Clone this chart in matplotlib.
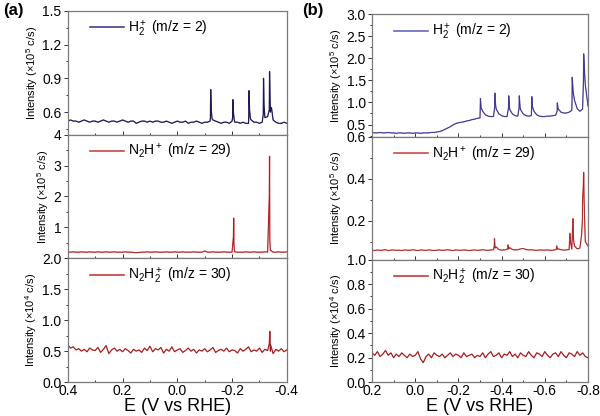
import matplotlib.pyplot as plt
import numpy as np
from matplotlib.ticker import MultipleLocator

plt.rcParams['font.family'] = ['Liberation Sans', 'DejaVu Sans']
plt.rcParams['mathtext.fontset'] = 'custom'
plt.rcParams['mathtext.rm'] = 'Liberation Sans'
plt.rcParams['mathtext.it'] = 'Liberation Sans:italic'

# sampling grids of the potential sweep (V vs RHE)
Ea = np.linspace(0.4, -0.4, 81)
Eb = np.linspace(0.2, -0.8, 81)

# ---- panel (a) ----
a_h2 = [0.52, 0.53, 0.52, 0.52, 0.51, 0.52, 0.53, 0.52, 0.51, 0.52,
        0.52, 0.51, 0.52, 0.53, 0.52, 0.51, 0.52, 0.52, 0.51, 0.52,
        0.53, 0.52, 0.51, 0.52, 0.52, 0.50, 0.51, 0.52, 0.52, 0.51,
        0.52, 0.51, 0.52, 0.52, 0.51, 0.51, 0.52, 0.51, 0.50, 0.51,
        0.52, 0.51, 0.51, 0.52, 0.50, 0.51, 0.51, 0.52, 0.51, 0.50,
        0.51, 0.51, 0.52, 0.53, 0.52, 0.51, 0.50, 0.51, 0.51, 0.50,
        0.52, 0.51, 0.51, 0.50, 0.51, 0.50, 0.50, 0.53, 0.51, 0.51,
        0.50, 0.51, 0.55, 0.56, 0.60, 0.53, 0.51, 0.50, 0.50, 0.51, 0.50]
a_h2_pk_E = [-0.121, -0.122, -0.124, -0.127, -0.202, -0.203, -0.205, -0.208,
             -0.261, -0.262, -0.264, -0.267, -0.314, -0.315, -0.317, -0.319,
             -0.336, -0.337, -0.339, -0.344]
a_h2_pk_I = [0.56, 0.80, 0.62, 0.54, 0.55, 0.71, 0.60, 0.53,
             0.56, 0.79, 0.62, 0.54, 0.58, 0.90, 0.66, 0.58,
             0.62, 0.96, 0.72, 0.64]

a_n2h = [0.21, 0.20, 0.21, 0.20, 0.20, 0.21, 0.20, 0.20, 0.21, 0.20,
         0.20, 0.21, 0.20, 0.20, 0.21, 0.20, 0.20, 0.21, 0.20, 0.20,
         0.20, 0.21, 0.20, 0.20, 0.19, 0.18, 0.19, 0.20, 0.20, 0.21,
         0.20, 0.20, 0.21, 0.20, 0.20, 0.20, 0.21, 0.20, 0.20, 0.21,
         0.20, 0.20, 0.21, 0.20, 0.20, 0.20, 0.21, 0.20, 0.20, 0.20,
         0.24, 0.20, 0.20, 0.21, 0.20, 0.20, 0.20, 0.21, 0.20, 0.20,
         0.20, 0.21, 0.20, 0.20, 0.20, 0.21, 0.20, 0.20, 0.21, 0.20,
         0.20, 0.20, 0.21, 0.20, 0.25, 0.20, 0.20, 0.21, 0.20, 0.20, 0.21]
a_n2h_pk_E = [-0.205, -0.206, -0.207, -0.209, -0.336, -0.337, -0.338, -0.341]
a_n2h_pk_I = [0.70, 1.30, 0.45, 0.22, 2.00, 3.30, 0.60, 0.26]

a_n2h2 = [0.60, 0.55, 0.57, 0.52, 0.54, 0.50, 0.53, 0.49, 0.55, 0.52,
          0.51, 0.56, 0.48, 0.53, 0.59, 0.46, 0.52, 0.55, 0.50, 0.53,
          0.49, 0.54, 0.51, 0.47, 0.53, 0.50, 0.52, 0.48, 0.55, 0.51,
          0.58, 0.49, 0.54, 0.52, 0.56, 0.47, 0.53, 0.50, 0.57, 0.49,
          0.52, 0.54, 0.48, 0.51, 0.55, 0.50, 0.53, 0.47, 0.52, 0.50,
          0.54, 0.49, 0.52, 0.56, 0.48, 0.51, 0.53, 0.50, 0.55, 0.49,
          0.52, 0.51, 0.47, 0.54, 0.50, 0.53, 0.57, 0.49, 0.52, 0.50,
          0.55, 0.48, 0.53, 0.51, 0.50, 0.46, 0.53, 0.50, 0.54, 0.49, 0.52]
a_n2h2_pk_E = [-0.336, -0.338, -0.341]
a_n2h2_pk_I = [0.62, 0.82, 0.60]

# ---- panel (b) ----
b_h2 = [0.32, 0.31, 0.31, 0.32, 0.31, 0.31, 0.32, 0.31, 0.31, 0.30,
        0.31, 0.31, 0.30, 0.31, 0.31, 0.30, 0.31, 0.31, 0.30, 0.31,
        0.31, 0.31, 0.32, 0.32, 0.33, 0.34, 0.36, 0.39, 0.42, 0.45,
        0.49, 0.52, 0.54, 0.55, 0.56, 0.58, 0.59, 0.61, 0.62, 0.64,
        0.65, 0.80, 0.72, 0.69, 0.68, 0.68, 0.85, 0.74, 0.70, 0.68,
        0.68, 0.84, 0.74, 0.70, 0.69, 0.84, 0.74, 0.70, 0.69, 0.70,
        0.80, 0.72, 0.69, 0.68, 0.68, 0.69, 0.69, 0.70, 0.71, 0.85,
        0.78, 0.76, 0.76, 0.78, 0.82, 1.05, 0.86, 0.80, 0.85, 1.40, 0.92]
b_h2_pk_E = [-0.301, -0.302, -0.305, -0.368, -0.369, -0.372,
             -0.432, -0.433, -0.436, -0.481, -0.482, -0.485,
             -0.539, -0.540, -0.543, -0.657, -0.658, -0.661,
             -0.726, -0.727, -0.731, -0.779, -0.780, -0.784]
b_h2_pk_I = [0.85, 1.09, 0.88, 0.90, 1.21, 0.95,
             0.88, 1.15, 0.92, 0.88, 1.15, 0.92,
             0.85, 1.13, 0.90, 0.80, 0.99, 0.88,
             1.00, 1.57, 1.25, 1.50, 2.10, 1.70]

b_n2h = [0.060, 0.058, 0.061, 0.059, 0.060, 0.062, 0.058, 0.060, 0.061, 0.059,
         0.060, 0.058, 0.061, 0.060, 0.059, 0.062, 0.060, 0.058, 0.061, 0.060,
         0.059, 0.061, 0.060, 0.058, 0.060, 0.061, 0.059, 0.060, 0.062, 0.060,
         0.058, 0.061, 0.060, 0.059, 0.061, 0.060, 0.058, 0.060, 0.061, 0.059,
         0.060, 0.062, 0.060, 0.059, 0.061, 0.062, 0.075, 0.063, 0.060, 0.061,
         0.064, 0.072, 0.063, 0.061, 0.062, 0.066, 0.068, 0.063, 0.061, 0.062,
         0.060, 0.059, 0.061, 0.060, 0.060, 0.061, 0.059, 0.060, 0.062, 0.066,
         0.062, 0.060, 0.061, 0.063, 0.065, 0.080, 0.066, 0.070, 0.300, 0.100, 0.080]
b_n2h_pk_E = [-0.366, -0.367, -0.370, -0.429, -0.430, -0.433,
              -0.654, -0.655, -0.658, -0.714, -0.716, -0.719,
              -0.728, -0.730, -0.733, -0.770, -0.774, -0.778,
              -0.780, -0.782, -0.786]
b_n2h_pk_I = [0.080, 0.115, 0.070, 0.070, 0.085, 0.065,
              0.065, 0.080, 0.065, 0.090, 0.140, 0.100,
              0.150, 0.210, 0.110, 0.130, 0.200, 0.360,
              0.430, 0.300, 0.150]

b_n2h2 = [0.24, 0.22, 0.25, 0.21, 0.23, 0.26, 0.22, 0.24, 0.20, 0.23,
          0.21, 0.24, 0.22, 0.20, 0.23, 0.21, 0.22, 0.25, 0.19, 0.16,
          0.21, 0.23, 0.20, 0.24, 0.22, 0.21, 0.23, 0.20, 0.22, 0.24,
          0.21, 0.23, 0.22, 0.20, 0.24, 0.21, 0.22, 0.23, 0.20, 0.22,
          0.21, 0.24, 0.20, 0.23, 0.25, 0.21, 0.22, 0.24, 0.20, 0.23,
          0.22, 0.25, 0.21, 0.23, 0.20, 0.24, 0.22, 0.21, 0.25, 0.22,
          0.20, 0.24, 0.23, 0.21, 0.25, 0.22, 0.20, 0.23, 0.24, 0.21,
          0.25, 0.22, 0.20, 0.24, 0.23, 0.21, 0.25, 0.22, 0.24, 0.21, 0.20]

labels = [r'H$_2^+$ (m/z = 2)', r'N$_2$H$^+$ (m/z = 29)', r'N$_2$H$_2^+$ (m/z = 30)']
ylabels_a = [r'Intensity ($\times$10$^5$ c/s)', r'Intensity ($\times$10$^5$ c/s)',
             r'Intensity ($\times$10$^4$ c/s)']
ylabels_b = ylabels_a


def merge(E, I, pE, pI):
    x = np.concatenate([E, pE])
    y = np.concatenate([np.asarray(I, float), pI])
    o = np.argsort(-x, kind='stable')
    return x[o], y[o]


fig = plt.figure(figsize=(6, 4.16), dpi=100)

panels = [
    dict(left=0.113, width=0.365, top=0.974, h=0.2975, xlim=(0.4, -0.4),
         traces=[(Ea, a_h2, a_h2_pk_E, a_h2_pk_I), (Ea, a_n2h, a_n2h_pk_E, a_n2h_pk_I),
                 (Ea, a_n2h2, a_n2h2_pk_E, a_n2h2_pk_I)],
         ylims=[(0.4, 1.5), (0.0, 4.0), (0.0, 2.0)],
         yticks=[[0.6, 0.9, 1.2, 1.5], [1, 2, 3, 4], [0.0, 0.5, 1.0, 1.5, 2.0]],
         yfmt=['%.1f', '%d', '%.1f'],
         xticks=[0.4, 0.2, 0.0, -0.2, -0.4],
         colors=['#23206a', '#d23a3a', '#c83030'],
         lcolors=['#4a3f86', '#c94545', '#c83a3a'],
         ylabels=ylabels_a),
    dict(left=0.620, width=0.360, top=0.966, h=0.295, xlim=(0.2, -0.8),
         traces=[(Eb, b_h2, b_h2_pk_E, b_h2_pk_I), (Eb, b_n2h, b_n2h_pk_E, b_n2h_pk_I),
                 (Eb, b_n2h2, [], [])],
         ylims=[(0.22, 3.0), (0.015, 0.6), (0.0, 1.0)],
         yticks=[[0.5, 1.0, 1.5, 2.0, 2.5, 3.0], [0.2, 0.4, 0.6], [0.0, 0.2, 0.4, 0.6, 0.8, 1.0]],
         yfmt=['%.1f', '%.1f', '%.1f'],
         xticks=[0.2, 0.0, -0.2, -0.4, -0.6, -0.8],
         colors=['#5a55b8', '#d64545', '#c83030'],
         lcolors=['#6a66c0', '#d04848', '#c83a3a'],
         ylabels=ylabels_b),
]

for p in panels:
    for k in range(3):
        ax = fig.add_axes([p['left'], p['top'] - (k + 1) * p['h'], p['width'], p['h']])
        E, I, pE, pI = p['traces'][k]
        x, y = merge(E, I, np.array(pE, float), np.array(pI, float))
        ax.plot(x, y, color=p['colors'][k], lw=0.9)
        ax.plot(x, y, color='#1a0a30' if k == 0 else '#5a0808', lw=0.5, alpha=0.45)
        ax.set_xlim(*p['xlim'])
        ax.set_ylim(*p['ylims'][k])
        ax.set_yticks(p['yticks'][k])
        ax.set_yticklabels([p['yfmt'][k] % v for v in p['yticks'][k]])
        ax.set_xticks(p['xticks'])
        ax.xaxis.set_minor_locator(MultipleLocator(0.1))
        step = p['yticks'][k][1] - p['yticks'][k][0]
        ax.yaxis.set_minor_locator(MultipleLocator(step / 2))
        ax.tick_params(which='both', direction='out', labelsize=10, colors='#333333',
                       labelcolor='black', width=0.7)
        ax.tick_params(which='major', length=3)
        ax.tick_params(which='minor', length=1.8)
        ax.tick_params(axis='x', which='both', direction='in', pad=1.5)
        ax.tick_params(axis='y', pad=1.5)
        for s in ax.spines.values():
            s.set_color('#7a7a7a')
            s.set_linewidth(0.9)
        ax.set_ylabel(p['ylabels'][k], fontsize=8, labelpad=2)
        if k < 2:
            ax.tick_params(labelbottom=False)
        else:
            ax.set_xticklabels(['%.1f' % v for v in p['xticks']])
            ax.set_xlabel('E (V vs RHE)', fontsize=13, labelpad=0)
        h, = ax.plot([], [], color=p['lcolors'][k], lw=1.2)
        ax.legend([h], [labels[k]], loc='upper left', bbox_to_anchor=(0.09, 0.96),
                  frameon=False, fontsize=10, handlelength=2.4, handletextpad=0.3,
                  borderaxespad=0, borderpad=0.2)

fig.text(0.005, 0.975, '(a)', fontsize=12, fontweight='bold', va='center')
fig.text(0.503, 0.975, '(b)', fontsize=12, fontweight='bold', va='center')

fig.savefig('out.png', dpi=100)
